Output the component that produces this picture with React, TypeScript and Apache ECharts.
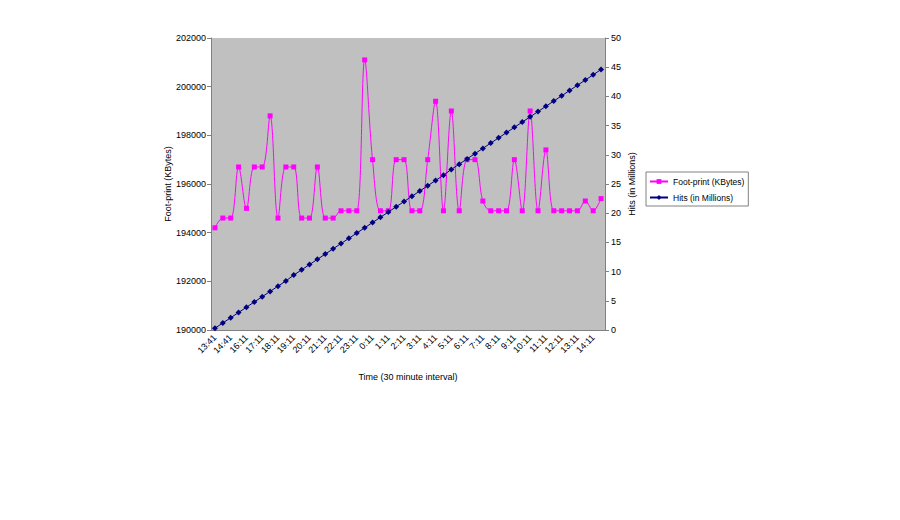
import React, { useEffect, useRef } from "react";
import * as echarts from "echarts";

const categories: string[] = [
  "13:41", "14:11", "14:41", "15:41", "16:11", "16:41", "17:11", "17:41", "18:11", "18:41",
  "19:11", "19:41", "20:11", "20:41", "21:11", "21:41", "22:11", "22:41", "23:11", "23:41",
  "0:11", "0:41", "1:11", "1:41", "2:11", "2:41", "3:11", "3:41", "4:11", "4:41",
  "5:11", "5:41", "6:11", "6:41", "7:11", "7:41", "8:11", "8:41", "9:11", "9:41",
  "10:11", "10:41", "11:11", "11:41", "12:11", "12:41", "13:11", "13:41 ", "14:11", "14:41 ",
];

const footprint: number[] = [
  194200, 194600, 194600, 196700, 195000, 196700, 196700, 198800, 194600, 196700,
  196700, 194600, 194600, 196700, 194600, 194600, 194900, 194900, 194900, 201100,
  197000, 194900, 194900, 197000, 197000, 194900, 194900, 197000, 199400, 194900,
  199000, 194900, 197000, 197000, 195300, 194900, 194900, 194900, 197000, 194900,
  199000, 194900, 197400, 194900, 194900, 194900, 194900, 195300, 194900, 195400,
];

const hits: number[] = [
  0.3, 1.2, 2.1, 3.0, 3.9, 4.8, 5.7, 6.6, 7.5, 8.4,
  9.4, 10.3, 11.2, 12.1, 13.0, 13.9, 14.8, 15.7, 16.6, 17.5,
  18.4, 19.3, 20.2, 21.1, 22.0, 22.9, 23.8, 24.7, 25.6, 26.5,
  27.5, 28.4, 29.3, 30.2, 31.1, 32.0, 32.9, 33.8, 34.7, 35.6,
  36.5, 37.4, 38.3, 39.2, 40.1, 41.0, 41.9, 42.8, 43.7, 44.6,
];

const leftTicks = { min: 190000, max: 202000, interval: 2000 };
const rightTicks = { min: 0, max: 50, interval: 5 };

const FONT = "Liberation Sans";

export default function App() {
  const ref = useRef<HTMLDivElement>(null);
  useEffect(() => {
    if (!ref.current) return;
    const chart = echarts.init(ref.current, undefined, { renderer: "svg" });
    chart.setOption({
      animation: false,
      backgroundColor: "#ffffff",
      textStyle: { fontFamily: FONT },
      grid: {
        left: 211,
        right: 295,
        top: 38,
        bottom: 190,
        show: true,
        backgroundColor: "#C0C0C0",
        borderWidth: 0,
      },
      legend: {
        orient: "vertical",
        left: 646,
        top: 172,
        itemWidth: 18,
        itemHeight: 6,
        itemGap: 7,
        padding: [5, 4, 4, 3],
        backgroundColor: "#ffffff",
        borderColor: "#808080",
        borderWidth: 1,
        borderRadius: 0,
        textStyle: { fontFamily: FONT, fontSize: 8.5, color: "#000" },
        data: ["Foot-print (KBytes)", "Hits (in Millions)"],
      },
      xAxis: {
        type: "category",
        data: categories,
        boundaryGap: true,
        name: "Time (30 minute interval)",
        nameLocation: "middle",
        nameGap: 42,
        nameTextStyle: { fontFamily: FONT, fontSize: 9, color: "#000" },
        axisLine: { lineStyle: { color: "#808080" } },
        axisTick: { interval: 0, length: 4, lineStyle: { color: "#808080" } },
        axisLabel: {
          interval: 1,
          rotate: 45,
          fontSize: 9,
          fontFamily: FONT,
          color: "#000",
          margin: 6,
        },
        splitLine: { show: false },
      },
      yAxis: [
        {
          type: "value",
          ...leftTicks,
          name: "Foot-print (KBytes)",
          nameLocation: "middle",
          nameRotate: 90,
          nameGap: 33,
          nameTextStyle: { fontFamily: FONT, fontSize: 9, color: "#000" },
          axisLine: { show: true, lineStyle: { color: "#808080" } },
          axisTick: { show: true, length: 4, lineStyle: { color: "#808080" } },
          axisLabel: {
            fontSize: 9,
            fontFamily: FONT,
            color: "#000",
            margin: 5,
            formatter: (v: number) => String(v),
          },
          splitLine: { show: false },
        },
        {
          type: "value",
          ...rightTicks,
          position: "right",
          name: "Hits (in Millions)",
          nameLocation: "middle",
          nameRotate: 90,
          nameGap: 22,
          nameTextStyle: { fontFamily: FONT, fontSize: 9, color: "#000" },
          axisLine: { show: true, lineStyle: { color: "#808080" } },
          axisTick: { show: true, length: 4, lineStyle: { color: "#808080" } },
          axisLabel: { fontSize: 9, fontFamily: FONT, color: "#000", margin: 6 },
          splitLine: { show: false },
        },
      ],
      series: [
        {
          name: "Foot-print (KBytes)",
          type: "line",
          data: footprint,
          yAxisIndex: 0,
          smooth: 0.35,
          symbol: "rect",
          symbolSize: 5,
          showAllSymbol: true,
          itemStyle: { color: "#FF00FF" },
          lineStyle: { color: "#FF00FF", width: 1 },
          z: 2,
        },
        {
          name: "Hits (in Millions)",
          type: "line",
          data: hits,
          yAxisIndex: 1,
          symbol: "diamond",
          symbolSize: 6,
          showAllSymbol: true,
          itemStyle: { color: "#000080" },
          lineStyle: { color: "#000080", width: 1 },
          z: 3,
        },
      ],
    });
    return () => chart.dispose();
  }, []);
  return (
    <div
      ref={ref}
      style={{ position: "fixed", left: 0, top: 0, width: 900, height: 520 }}
    />
  );
}
